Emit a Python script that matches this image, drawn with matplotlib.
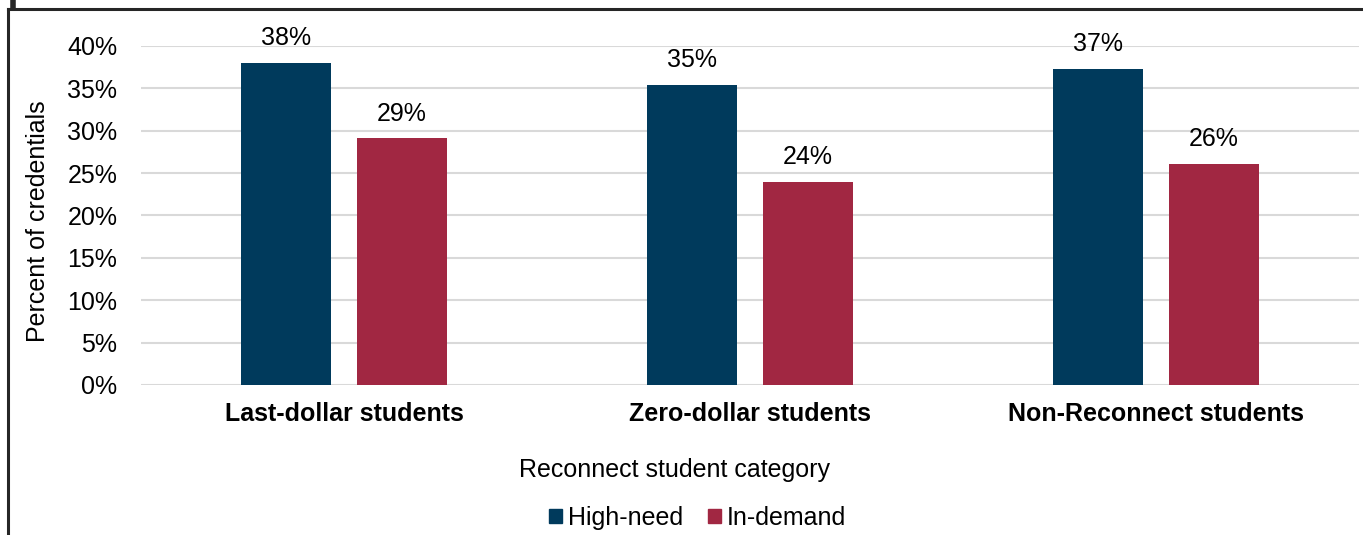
import matplotlib.pyplot as plt
import matplotlib.ticker as ticker
from matplotlib.lines import Line2D
from matplotlib.patches import Patch
import numpy as np

plt.rcParams['font.family'] = ['Liberation Sans', 'DejaVu Sans']

# Data
categories = ["Last-dollar students", "Zero-dollar students", "Non-Reconnect students"]
high_need = [38.0, 35.4, 37.3]
in_demand = [29.1, 24.0, 26.1]
high_need_labels = ["38%", "35%", "37%"]
in_demand_labels = ["29%", "24%", "26%"]
series_names = ["High-need", "In-demand"]

navy = "#003A5C"
maroon = "#A12742"
fs = 18

fig = plt.figure(figsize=(13.63, 5.35), dpi=100)
ax = fig.add_axes([141 / 1363, 150 / 535, 1218 / 1363, 339 / 535])

x = np.arange(len(categories))
w = 0.222
off = 0.143
b1 = ax.bar(x - off, high_need, w, color=navy, zorder=3)
b2 = ax.bar(x + off, in_demand, w, color=maroon, zorder=3)

for bars, labs in [(b1, high_need_labels), (b2, in_demand_labels)]:
    for rect, lab in zip(bars, labs):
        ax.annotate(lab, (rect.get_x() + rect.get_width() / 2, rect.get_height()),
                    xytext=(0, 9), textcoords='offset points',
                    ha='center', va='bottom', fontsize=fs)

ax.set_xlim(-0.5, 2.5)
ax.set_ylim(0, 40)
ax.set_yticks(np.arange(0, 41, 5))
ax.yaxis.set_major_formatter(ticker.FuncFormatter(lambda v, p: f"{int(v)}%"))
ax.set_xticks(x)
ax.set_xticklabels(categories, fontsize=fs, fontweight='bold')
ax.tick_params(axis='y', length=0, pad=17, labelsize=fs)
ax.tick_params(axis='x', length=0, pad=12)
ax.grid(axis='y', color='#D9D9D9', linewidth=1.5, zorder=0)
for s in ax.spines.values():
    s.set_visible(False)

ax.set_ylabel("Percent of credentials", fontsize=fs)
ax.yaxis.set_label_coords(-0.0747, 0.484)
fig.text(0.495, 1 - 470 / 535, "Reconnect student category", ha='center', va='center', fontsize=fs)

handles = [Patch(color=navy), Patch(color=maroon)]
fig.legend(handles, series_names, loc='center', ncol=2, frameon=False,
           bbox_to_anchor=(0.512, 1 - 518 / 535), fontsize=fs,
           handlelength=0.5, handleheight=0.5, handletextpad=0.25, columnspacing=1.0)

# frame lines from the surrounding page
fig.add_artist(Line2D([8 / 1363, 1], [1 - 9 / 535, 1 - 9 / 535], color='#262626', linewidth=2.2))
fig.add_artist(Line2D([8 / 1363, 8 / 1363], [0, 1 - 9 / 535], color='#262626', linewidth=2.2))
fig.add_artist(Line2D([12.5 / 1363, 12.5 / 1363], [1 - 8 / 535, 1], color='#262626', linewidth=4))

fig.savefig("out.png", dpi=100)
